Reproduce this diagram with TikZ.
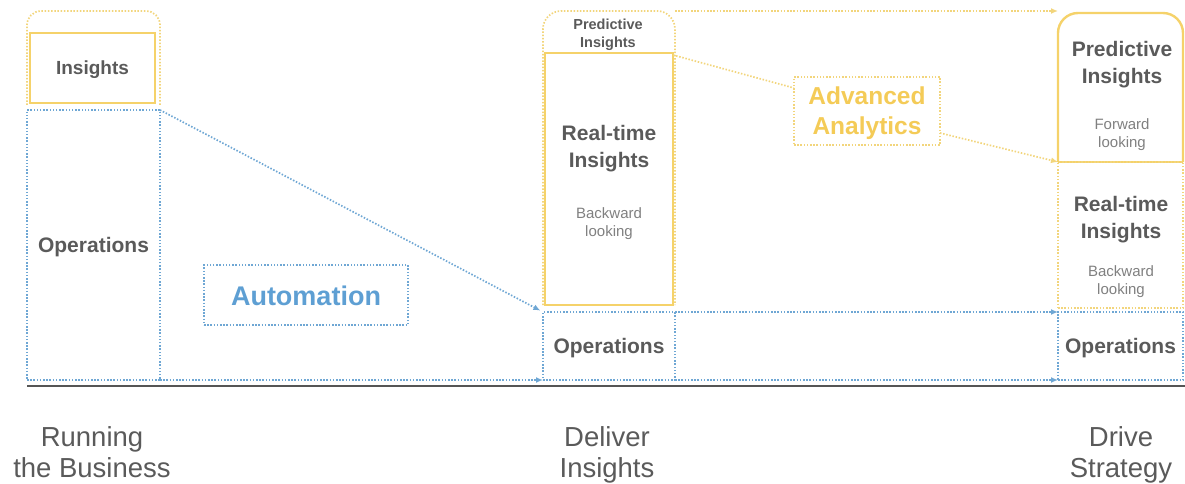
\documentclass[tikz,border=0pt]{standalone}
\usepackage{fontspec}
\setmainfont{Liberation Sans}
\usetikzlibrary{arrows.meta}
\definecolor{ysolid}{HTML}{F5D26A}
\definecolor{ydot}{HTML}{F2D57C}
\definecolor{bdot}{HTML}{6FA7D4}
\definecolor{btext}{HTML}{5E9FD3}
\definecolor{ytext}{HTML}{F4CB57}
\definecolor{dtext}{HTML}{5A5A5A}
\definecolor{stext}{HTML}{808080}
\definecolor{axis}{HTML}{555555}
\tikzset{
  dotline/.style={line width=1.7pt, dash pattern=on 1.5pt off 1.7pt},
  bbox/.style={draw=bdot, dotline, rectangle, inner sep=0pt, outer sep=0pt, anchor=north west},
  ybox/.style={draw=ydot, dotline, rectangle, inner sep=0pt, outer sep=0pt, anchor=north west},
  sbox/.style={draw=ysolid, line width=2.4pt, rectangle, inner sep=0pt, outer sep=0pt, anchor=north west},
  region/.style={draw=none, rectangle, inner sep=0pt, outer sep=0pt, anchor=north west},
  barr/.style={draw=bdot, dotline, -{Latex[length=7pt,width=6pt]}},
  yarr/.style={draw=ydot, dotline, -{Latex[length=7pt,width=6pt]}},
  ylin/.style={draw=ydot, dotline},
  big/.style={text=dtext, font=\fontsize{21}{27}\selectfont\bfseries, align=center},
  small/.style={text=stext, font=\fontsize{15}{18}\selectfont, align=center},
  stage/.style={text=dtext, font=\fontsize{27.5}{31}\selectfont, align=center},
}
\begin{document}
\begin{tikzpicture}[x=1pt,y=-1pt]
\useasboundingbox (0,0) rectangle (1185,484);

% ---- left column
\node[region, minimum width=133pt, minimum height=94pt] (envL) at (27,11) {};
\draw[ylin, rounded corners=14pt] (envL.south west) -- (envL.north west) -- (envL.north east) -- (envL.south east);
\node[sbox, minimum width=125pt, minimum height=70pt, fill=white] (insL) at (30,33) {};
\node[big, font=\fontsize{19}{24}\selectfont\bfseries] (insLt) at ([yshift=-2pt]insL.center) {Insights};
\node[bbox, minimum width=133pt, minimum height=270pt] (opsL) at (27,110) {};
\node[big] (opsLt) at ([yshift=-2pt]opsL.center) {Operations};

% ---- automation
\node[bbox, minimum width=204pt, minimum height=60pt] (auto) at (204,265) {};
\node[text=btext, font=\fontsize{27}{30}\selectfont\bfseries] (autot) at ([yshift=-1pt]auto.center) {Automation};

% ---- middle column
\node[region, minimum width=132pt, minimum height=294pt] (envM) at (543,11) {};
\draw[ylin, rounded corners=18pt] (envM.south west) -- (envM.north west) -- (envM.north east) -- (envM.south east);
\node[big, font=\fontsize{14.5}{18}\selectfont\bfseries] (predM) at (608,35) {Predictive\strut\\Insights\strut};
\node[sbox, minimum width=128pt, minimum height=252pt] (rtM) at (545,53) {};
\node[big] (rtMt) at (609,149) {Real-time\strut\\Insights\strut};
\node[small] (rtMs) at (609,224) {Backward\strut\\looking\strut};
\node[bbox, minimum width=132pt, minimum height=68pt] (opsM) at (543,312) {};
\node[big] (opsMt) at ([yshift=-2pt]opsM.center) {Operations};

% ---- advanced analytics
\node[ybox, minimum width=146pt, minimum height=68pt] (adv) at (794,77) {};
\node[text=ytext, font=\fontsize{24.5}{30}\selectfont\bfseries, align=center] (advt) at ([yshift=-3pt]adv.center) {Advanced\strut\\Analytics\strut};

% ---- right column
\node[region, minimum width=125pt, minimum height=149pt] (predR) at (1058,13) {};
\draw[draw=ysolid, line width=2.4pt, rounded corners=20pt] (predR.south west) -- (predR.north west) -- (predR.north east) -- (predR.south east);
\draw[draw=ysolid, line width=2.4pt] (predR.south west) -- (predR.south east);
\node[big] (predRt) at (1122,65) {Predictive\strut\\Insights\strut};
\node[small] (predRs) at (1122,135) {Forward\strut\\looking\strut};
\node[ybox, minimum width=125pt, minimum height=146pt] (rtR) at (1058,162) {};
\node[big] (rtRt) at (1121,220) {Real-time\strut\\Insights\strut};
\node[small] (rtRs) at (1121,282) {Backward\strut\\looking\strut};
\node[bbox, minimum width=125pt, minimum height=68pt] (opsR) at (1058,312) {};
\node[big] (opsRt) at ([yshift=-2pt]opsR.center) {Operations};

% ---- connectors
\draw[barr, shorten >=3pt] (opsL.north east) -- (opsM.north west);
\draw[barr] (opsL.south east) -- (opsM.south west);
\draw[barr] (opsM.south east) -- (opsR.south west);
\draw[barr] (opsM.north east) -- (opsR.north west);
\draw[yarr] (envM.north east) -- (envM.north east -| predR.west);
\draw[ylin] ([yshift=-2pt]rtM.north east) -- ([yshift=-11pt]adv.north west);
\draw[yarr] ([yshift=12pt]adv.south east) -- (predR.south west);

% ---- axis
\coordinate (axL) at (27,386);
\coordinate (axR) at (1185,386);
\draw[axis, line width=2.2pt] (axL) -- (axR);

% ---- stage labels
\node[stage] (s1) at (92,456) {Running\strut\\the Business\strut};
\node[stage] (s2) at (607,456) {Deliver\strut\\Insights\strut};
\node[stage] (s3) at (1121,456) {Drive\strut\\Strategy\strut};
\end{tikzpicture}
\end{document}
